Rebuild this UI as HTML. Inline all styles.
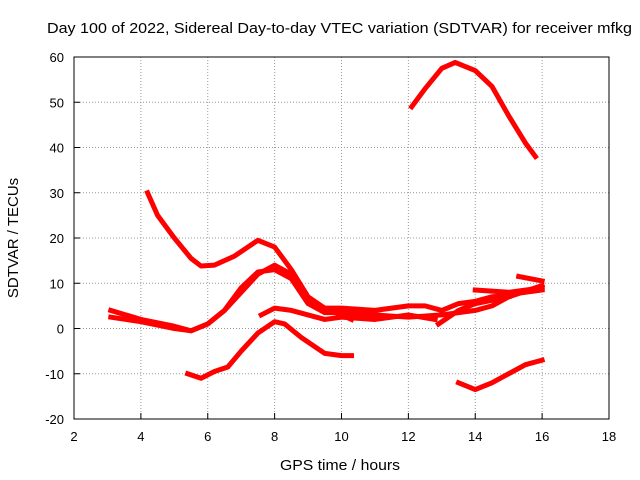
<!DOCTYPE html>
<html><head><meta charset="utf-8"><style>
body{margin:0;background:#fff;}
svg{display:block;font-family:"Liberation Sans",sans-serif;}
</style></head><body>
<svg id="chart" width="640" height="480">
<rect width="640" height="480" fill="#fff"/>
<text x="47" y="33" font-size="15" textLength="585" lengthAdjust="spacingAndGlyphs">Day 100 of 2022, Sidereal Day-to-day VTEC variation (SDTVAR) for receiver mfkg</text>
<text x="280" y="470" font-size="15" textLength="120" lengthAdjust="spacingAndGlyphs">GPS time / hours</text>
<text x="18" y="238" font-size="15" text-anchor="middle" transform="rotate(-90 18 238)">SDTVAR / TECUs</text>
<g id="grid"></g><g id="series"></g>
<rect x="74" y="57" width="535" height="362" fill="none" stroke="#000" stroke-width="1"/>
</svg>
<script>
const xTicks=[2,4,6,8,10,12,14,16,18];
const yTicks=[-20,-10,0,10,20,30,40,50,60];
const seriesA=[[12.1,49],[12.5,53],[13,57.5],[13.4,58.8],[14,57],[14.5,53.5],[15,47],[15.5,41],[15.8,38]];
const seriesB=[[4.2,30],[4.5,25],[5,20],[5.5,15.5],[5.8,13.8],[6.2,14],[6.8,16],[7.5,19.5],[8,18],[8.5,13],[9,7],[9.5,4.5],[10,3],[10.3,2]];
const seriesC=[[3.1,4],[4,2],[5,0.5],[5.5,-0.5],[6,1],[6.5,4],[7,8],[7.5,12],[8,14],[8.5,12],[9,6],[9.5,4.5],[10,4.5],[11,4],[12,5],[12.5,5],[13,4],[13.5,5.5],[14,6],[14.5,7],[15,7.5],[16,8.5]];
const seriesD=[[7.6,3],[8,4.5],[8.5,4],[9,3],[9.5,2],[10,2.5],[11,2],[12,3],[12.8,2]];
const seriesE=[[3.1,2.5],[4,1.5],[5,0],[5.5,-0.5],[6,1],[6.5,4],[7,9],[7.5,12.5],[8,13],[8.5,11],[9,5.5],[9.5,3.5],[10,3.5],[11,3],[12,2.5],[13,3],[14,4],[14.5,5],[15,7],[16,9.5]];
const seriesF=[[5.4,-10],[5.8,-11],[6.2,-9.5],[6.6,-8.5],[7,-5],[7.5,-1],[8,1.5],[8.3,1],[8.8,-2],[9.5,-5.5],[10,-6],[10.3,-6]];
const seriesG=[[13.5,-12],[14,-13.5],[14.5,-12],[15,-10],[15.5,-8],[16,-7]];
const seriesH=[[15.3,11.5],[16,10.5]];
const seriesI=[[14,8.5],[15,8],[16,9]];
const seriesJ=[[12.9,1],[13.5,4],[14,5.5],[15,7]];
const allSeries=[seriesA,seriesB,seriesC,seriesD,seriesE,seriesF,seriesG,seriesH,seriesI,seriesJ];
const X=v=>74+(v-2)*(535/16);
const Y=v=>419-(v+20)*(362/80);
const NS="http://www.w3.org/2000/svg";
const grid=document.getElementById('grid');
function mk(t,a,p){const e=document.createElementNS(NS,t);for(const k in a)e.setAttribute(k,a[k]);p.appendChild(e);return e;}
xTicks.forEach(t=>{
 if(t>2&&t<18){const l=mk('line',{x1:X(t),x2:X(t),y1:57,y2:419,stroke:'#999','stroke-dasharray':'1,2'},grid);
 
 }
 const tk=mk('line',{x1:X(t),x2:X(t),y1:419,y2:413,stroke:'#000'},grid);
 
 
 const tx=mk('text',{x:X(t),y:441,'font-size':13,'text-anchor':'middle'},grid);tx.textContent=t;
 
 
});
yTicks.forEach(t=>{
 if(t>-20&&t<60){const l=mk('line',{x1:74,x2:609,y1:Y(t),y2:Y(t),stroke:'#999','stroke-dasharray':'1,2'},grid);
 
 }
 const tk=mk('line',{x1:74,x2:80,y1:Y(t),y2:Y(t),stroke:'#000'},grid);
 
 
 const tx=mk('text',{x:64,y:Y(t)+5,'font-size':13,'text-anchor':'end'},grid);tx.textContent=t;
 
 
});
const sg=document.getElementById('series');
allSeries.forEach((s,i)=>{
 const p=mk('polyline',{points:s.map(d=>X(d[0])+','+Y(d[1])).join(' '),fill:'none',stroke:'#f00','stroke-width':5,'stroke-linejoin':'round','stroke-linecap':'square'},sg);
 
 
});
</script>
</body></html>
